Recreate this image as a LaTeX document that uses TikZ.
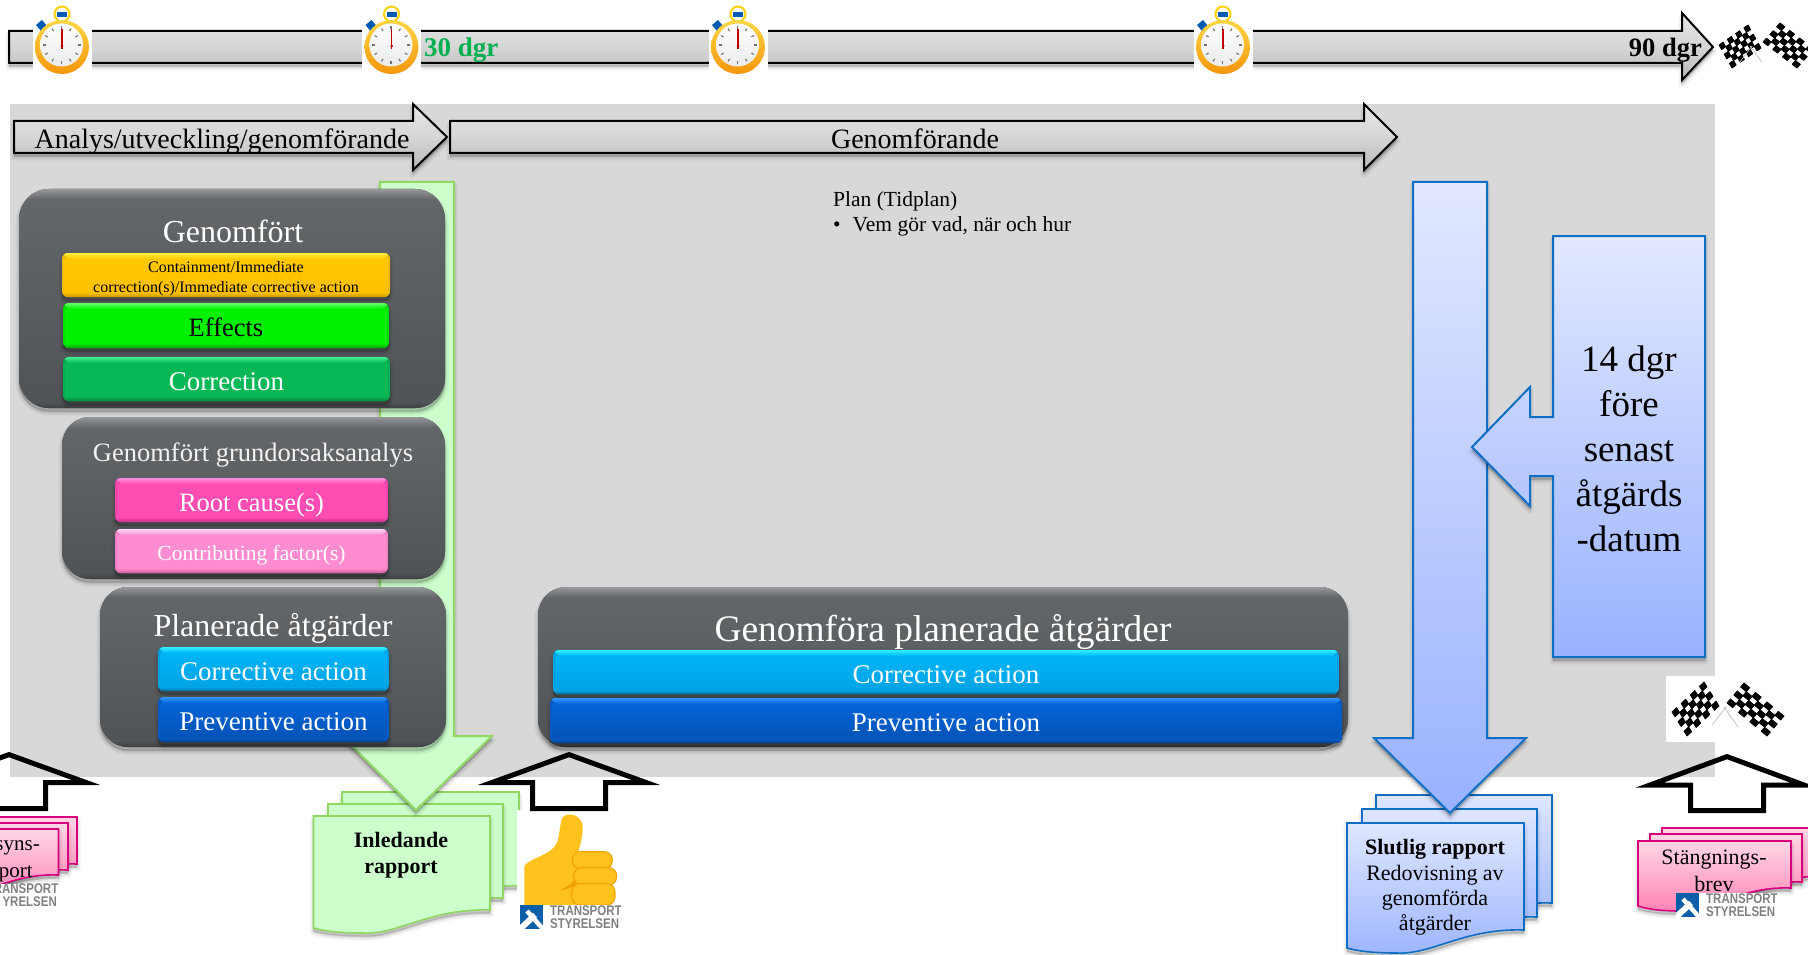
\documentclass[tikz,border=0pt]{standalone}
\usepackage{fontspec}
\setmainfont{Liberation Serif}
\newfontfamily\logofont{Liberation Sans}
\usetikzlibrary{calc}
\newcommand{\myfs}[1]{\fontsize{#1}{#1}\selectfont}
\definecolor{panelgrey}{HTML}{D8D8D8}
\definecolor{bluedge}{HTML}{0F6FC6}
\definecolor{grnedge}{HTML}{90D860}
\definecolor{grnfill}{HTML}{CCFFCC}
\definecolor{pinkedge}{HTML}{D9007E}
\definecolor{darkA}{HTML}{65686B}\definecolor{darkB}{HTML}{505355}\definecolor{darkH}{HTML}{96989A}\definecolor{darkL}{HTML}{3E4042}
\definecolor{thumbY}{HTML}{FFC21C}\definecolor{thumbO}{HTML}{F0A000}
\definecolor{yelT}{HTML}{FFC800}\definecolor{yelB}{HTML}{FFC000}\definecolor{yelH}{HTML}{FFF040}\definecolor{yelL}{HTML}{C89600}
\definecolor{limT}{HTML}{00F000}\definecolor{limB}{HTML}{00F000}\definecolor{limH}{HTML}{66FF66}\definecolor{limL}{HTML}{00A800}
\definecolor{grnT}{HTML}{08B856}\definecolor{grnB}{HTML}{08B856}\definecolor{grnH}{HTML}{40F090}\definecolor{grnL}{HTML}{068C40}
\definecolor{magT}{HTML}{FF4DB4}\definecolor{magB}{HTML}{FF4DB4}\definecolor{magH}{HTML}{FF90E0}\definecolor{magL}{HTML}{C83088}
\definecolor{rosT}{HTML}{FF8CD0}\definecolor{rosB}{HTML}{FF8CD0}\definecolor{rosH}{HTML}{FFD8F8}\definecolor{rosL}{HTML}{D060A0}
\definecolor{cyaT}{HTML}{00B4F8}\definecolor{cyaB}{HTML}{00A4E4}\definecolor{cyaH}{HTML}{30F0FF}\definecolor{cyaL}{HTML}{0070A0}
\definecolor{bluT}{HTML}{0564D8}\definecolor{bluB}{HTML}{0454B8}\definecolor{bluH}{HTML}{3498FF}\definecolor{bluL}{HTML}{033E8C}
\tikzset{
  softsh/.style={
    preaction={fill=black,draw=black,fill opacity=.05,draw opacity=.05,line width=7,line join=round,transform canvas={yshift=-4pt}},
    preaction={fill=black,draw=black,fill opacity=.07,draw opacity=.07,line width=3,line join=round,transform canvas={yshift=-4pt}},
    preaction={fill=black,draw=black,fill opacity=.08,draw opacity=.08,line width=.5,line join=round,transform canvas={yshift=-3pt}}},
  greyarrow/.style={softsh,draw=black,line width=2,top color=black!10,bottom color=black!28,middle color=black!16,miter limit=10},
  outlinearrow/.style={draw=black,line width=5,miter limit=14},
  sheetgreen/.style={softsh,draw=grnedge,line width=1.6,fill=grnfill},
  sheetblue/.style={softsh,draw=bluedge,line width=1.6,top color={rgb,255:red,222;green,230;blue,255},bottom color={rgb,255:red,158;green,182;blue,255}},
  sheetpink/.style={softsh,draw=pinkedge,line width=1.6,top color={rgb,255:red,255;green,214;blue,230},bottom color={rgb,255:red,255;green,130;blue,180}},
  txt/.style={inner sep=0pt,align=center,text=black},
  logotxt/.style={inner sep=0pt,text=black!50,font=\logofont\bfseries\myfs{14}},
}
% flag: corner, long vector, short vector
\newcommand{\checkflag}[6]{%
  \foreach \i in {0,...,6}{\foreach \j in {0,...,4}{%
    \pgfmathtruncatemacro{\flagk}{mod(\i+\j,2)}%
    \ifnum\flagk=0
    \filldraw[black,line width=.8,line join=round] (#1+\i*#3/7+\j*#5/5,#2+\i*#4/7+\j*#6/5) -- ++(#3/7,#4/7) -- ++(#5/5,#6/5) -- ++(-#3/7,-#4/7) -- cycle;
    \fi}}}
% bar with bevel: name x1 y1 x2 y2 colour size textcolour text
\newcommand{\bevelbar}[9]{%
  \fill[softsh,#6L,rounded corners=6] (#2,#3) rectangle (#4,#5);
  \begin{scope}
    \clip[rounded corners=6] (#2,#3) rectangle (#4,#5);
    \fill[#6L!25!#6T] (#2,#3) rectangle (#4,#5);
    \shade[top color=#6H,bottom color=#6T] (#2,#3) -- (#4,#3) -- ($(#4,#3)+(-6,6)$) -- ($(#2,#3)+(6,6)$) -- cycle;
    \shade[top color=#6T,bottom color=#6L] ($(#2,#5)+(5,-5)$) -- ($(#4,#5)+(-5,-5)$) -- (#4,#5) -- (#2,#5) -- cycle;
    \shade[top color=#6T,bottom color=#6B] ($(#2,#3)+(2.5,6)$) rectangle ($(#4,#5)+(-2.5,-5)$);
  \end{scope}
  \pgfmathsetmacro{\bth}{.68*#7}%
  \node[txt,font=\myfs{#7},text=#8,text height=\bth pt,text depth=0pt] (#1) at ($(#2,#3)!.5!(#4,#5)+(0,2.2)$) {#9};}
% dark rounded panel: x1 y1 x2 y2 radius
\newcommand{\darkpanel}[5]{%
  \fill[softsh,darkA,rounded corners=#5] (#1,#2) rectangle (#3,#4);
  \begin{scope}
    \clip[rounded corners=#5] (#1,#2) rectangle (#3,#4);
    \shade[top color=darkA,bottom color=darkB] (#1,#2) rectangle (#3,#4);
    \shade[top color=darkH,bottom color=darkA] (#1,#2) rectangle ($(#3,#2)+(0,10)$);
    \shade[top color=darkB,bottom color=darkL] ($(#1,#4)+(0,-6)$) rectangle (#3,#4);
  \end{scope}}
% stopwatch
\newcommand{\stopw}[3]{%
  \begin{scope}[shift={(#2,#3)}]
    \fill[white] (-29.5,-47) rectangle (29.5,28);
    \coordinate (#1) at (0,0);
    \draw[yellow!70!orange,line width=2] (0,-33) circle (7.5);
    \fill[blue!50!cyan!70!black] (-5,-35) rectangle (5,-30);
    \fill[blue!50!cyan!70!black] (-26,-22) -- (-20,-27) -- (-15,-21) -- (-21,-16) -- cycle;
    \shade[top color={rgb,255:red,255;green,214;blue,70},bottom color={rgb,255:red,245;green,150;blue,10}] (0,0) circle (27);
    \shade[top color=white,bottom color=black!8] (-.5,-2) circle (21.5);
    \foreach \a in {0,30,...,330}{\draw[black!55,line width=1.1] ($(-.5,-2)+(\a:16)$) -- ($(-.5,-2)+(\a:19)$);}
    \draw[red!75!black,line width=1.2] (0,2) -- (0,-18);
    \fill[red!75!black] (0,-1) circle (1.5);
  \end{scope}}
% sheet with wavy bottom: x1 y1 x2 yr style
\newcommand{\sheet}[5]{%
  \pgfmathsetmacro{\shw}{#3-#1}%
  \draw[#5] (#1,#2) -- (#3,#2) -- (#3,#4)
    .. controls ($(#3,#4)+(-.34*\shw,-2)$) and ($(#3,#4)+(-.52*\shw,25)$) .. ($(#3,#4)+(-.72*\shw,23)$)
    .. controls ($(#3,#4)+(-.82*\shw,23)$) and ($(#3,#4)+(-.92*\shw,22)$) .. ($(#1,#4)+(0,18)$) -- cycle;}
% logo: name x y
\newcommand{\tslogo}[3]{%
  \fill[white] (#2,#3) rectangle ($(#2,#3)+(104,25)$);
  \begin{scope}
    \clip (#2,#3) rectangle ($(#2,#3)+(23,24)$);
    \fill[bluedge!85!black] (#2,#3) rectangle ($(#2,#3)+(23,24)$);
    \draw[white,line width=4.5] ($(#2,#3)+(7,6)$) -- ($(#2,#3)+(23,24)$);
    \draw[white,line width=6] ($(#2,#3)+(-1,25)$) -- ($(#2,#3)+(15,10)$);
  \end{scope}
  \node[logotxt,anchor=west] (#1a) at ($(#2,#3)+(30,6)$) {\scalebox{.82}[1]{TRANSPORT}};
  \node[logotxt,anchor=west] (#1b) at ($(#2,#3)+(30,19)$) {\scalebox{.82}[1]{STYRELSEN}};}
\begin{document}
\begin{tikzpicture}[x=1pt,y=-1pt,line join=miter]
\useasboundingbox (0,0) rectangle (1808,955);
\fill[white] (0,0) rectangle (1808,955);
% timeline
\path[greyarrow] (9,31) -- (1682,31) -- (1682,13) -- (1713,47) -- (1682,80) -- (1682,63) -- (9,63) -- cycle;
\stopw{wa}{62}{47}\stopw{wb}{391.5}{47}\stopw{wc}{738}{47}\stopw{wd}{1223}{47}
\node[txt,anchor=west,font=\bfseries\myfs{27},text={rgb,255:red,0;green,176;blue,80}] (d30) at (424,50.5) {30 dgr};
\node[txt,anchor=east,font=\bfseries\myfs{26.5}] (d90) at (1702,50) {90 dgr};
\checkflag{1719}{45}{29}{-20}{13}{23}
\checkflag{1763}{42}{34}{26}{17}{-19}
\draw[black!25,line width=.7] (1752,46) -- (1740,62) (1750,46) -- (1762,62);
% panel
\fill[panelgrey] (10,104) rectangle (1715,777);
% phase arrows
\path[greyarrow] (14,121) -- (413,121) -- (413,104) -- (447,137) -- (413,170) -- (413,153) -- (14,153) -- cycle;
\path[greyarrow] (450,121) -- (1364,121) -- (1364,104) -- (1397,137) -- (1364,170) -- (1364,153) -- (450,153) -- cycle;
\node[txt,font=\myfs{28}] (t1) at (222,142) {Analys/utveckling/genomförande};
\node[txt,font=\myfs{28}] (t2) at (915,139) {Genomförande};
% documents green
\sheet{342}{792}{519}{886}{sheetgreen}
\sheet{328}{804}{503}{898}{sheetgreen}
\sheet{313.5}{816}{490}{910}{sheetgreen}
\node[txt,font=\bfseries\myfs{22},align=center] (inl) at (401,855) {Inledande\\[4.5pt]rapport};
% green arrow
\path[softsh,draw=grnedge,line width=2,fill=grnfill,miter limit=10] (380,182) -- (454,182) -- (454,736) -- (492,736) -- (416,810) -- (342,736) -- (380,736) -- cycle;
% white behind thumb
\fill[white] (517,810) rectangle (625,932);
\begin{scope}[shift={(515,805)},scale=1/3]
  \fill[thumbY] (28,300) -- (28,185) .. controls (30,165) and (110,150) .. (125,115) .. controls (135,90) and (135,50) .. (142,38) .. controls (155,22) and (195,25) .. (203,60) .. controls (205,90) and (195,120) .. (190,142) -- (180,300) -- cycle;
  \draw[fill=thumbY,draw=thumbO,line width=1,rounded corners=8] (172,140) rectangle (292,192);
  \draw[fill=thumbY,draw=thumbO,line width=1,rounded corners=8] (176,188) rectangle (305,240);
  \draw[fill=thumbY,draw=thumbO,line width=1,rounded corners=8] (170,236) rectangle (300,300);
  \fill[thumbO] (130,257) .. controls (150,250) and (165,240) .. (180,225) -- (185,240) .. controls (165,250) and (150,255) .. (130,257) -- cycle;
\end{scope}
\tslogo{lg}{520}{905}
% dark panels
\darkpanel{19}{189}{445}{408}{30}
\node[txt,font=\myfs{32},text=white] (g1) at (233,231) {Genomfört};
\bevelbar{yb}{62}{253}{390}{297}{yel}{16}{black}{}
\node[txt,font=\myfs{16}] (yt) at (226,279) {Containment/Immediate\\[4pt]correction(s)/Immediate corrective action};
\bevelbar{ef}{63}{303}{389}{348}{lim}{26.5}{black}{Effects}
\bevelbar{co}{63}{357}{390}{401}{grn}{27}{white}{Correction}
\darkpanel{62}{417}{445}{579}{28}
\node[txt,font=\myfs{26.5},text=white!95!black] (g2) at (253,455) {Genomfört grundorsaksanalys};
\bevelbar{rc}{115}{478}{388}{522}{mag}{26.5}{white}{Root cause(s)}
\bevelbar{cf}{115}{529}{388}{573}{ros}{21.5}{white}{Contributing factor(s)}
\darkpanel{100}{587}{446}{747}{28}
\node[txt,font=\myfs{32},text=white] (g3) at (273,628.5) {Planerade åtgärder};
\bevelbar{ca}{158}{647}{389}{691}{cya}{27}{white}{Corrective action}
\bevelbar{pa}{158}{697}{389}{742}{blu}{27}{white}{Preventive action}
\darkpanel{538}{587}{1348}{747}{28}
\node[txt,font=\myfs{37.4},text=white] (g4) at (943,631.5) {Genomföra planerade åtgärder};
\bevelbar{cb}{553}{650}{1339}{694}{cya}{27}{white}{Corrective action}
\bevelbar{pb}{550}{698}{1342}{743}{blu}{27}{white}{Preventive action}
% plan
\node[txt,anchor=west,font=\myfs{21.5}] (pl) at (833,201) {Plan (Tidplan)};
\node[txt,anchor=west,font=\myfs{21.5}] (pl2) at (833,226) {•\hspace{12pt}Vem gör vad, när och hur};
% blue docs
\sheet{1376}{795}{1552}{903}{sheetblue}
\sheet{1362}{809}{1537}{917}{sheetblue}
\sheet{1347}{823}{1524}{930}{sheetblue}
\node[txt,font=\myfs{22},align=center] (sl) at (1435,887.5) {\textbf{Slutlig rapport}\\[3.4pt]Redovisning av\\[3.4pt]genomförda\\[3.4pt]åtgärder};
% blue arrow
\path[softsh,draw=bluedge,line width=2,top color={rgb,255:red,226;green,232;blue,255},bottom color={rgb,255:red,153;green,178;blue,255},miter limit=10] (1413,182) -- (1487,182) -- (1487,738) -- (1526,738) -- (1450,813) -- (1374,738) -- (1413,738) -- cycle;
% 14 dgr callout
\path[softsh,draw=bluedge,line width=2,top color={rgb,255:red,226;green,232;blue,255},bottom color={rgb,255:red,153;green,178;blue,255},miter limit=10] (1553,236) -- (1705,236) -- (1705,657) -- (1553,657) -- (1553,476) -- (1530,476) -- (1530,506) -- (1472,447) -- (1530,387) -- (1530,417) -- (1553,417) -- cycle;
\node[txt,font=\myfs{37},align=center] (dd) at (1629,448.5) {14 dgr\\[8pt]före\\[8pt]senast\\[8pt]åtgärds\\[8pt]-datum};
% end flags
\fill[white] (1666,676) rectangle (1787,742);
\checkflag{1672}{712}{32}{-30}{15}{24}
\checkflag{1727}{703}{40}{33}{17}{-20}
\draw[black!25,line width=.7] (1726,707) -- (1712,725) (1724,707) -- (1738,727);
% pink docs
\sheet{-70}{817}{77}{864}{sheetpink}
\sheet{-82}{823}{68}{870}{sheetpink}
\sheet{-94}{829}{58.5}{875}{sheetpink}
\node[txt,anchor=east,font=\myfs{21}] (s1) at (40,848) {syns-};
\node[txt,anchor=east,font=\myfs{21}] (s2) at (33,874) {port};
\fill[white] (0,884) rectangle (60,910);
\node[logotxt,anchor=east] (la) at (58.5,889) {\scalebox{.82}[1]{RANSPORT}};
\node[logotxt,anchor=east] (lb) at (57,902) {\scalebox{.82}[1]{YRELSEN}};
\sheet{1662}{828}{1830}{876}{sheetpink}
\sheet{1650}{834}{1802}{882}{sheetpink}
\sheet{1638}{841}{1791}{888}{sheetpink}
\node[txt,font=\myfs{22},align=center] (st) at (1714,871) {Stängnings-\\[5pt]brev};
\tslogo{lr}{1676}{893}
% up arrows
\draw[outlinearrow] (-30,808.5) -- (45.5,808.5) -- (45.5,782.5) -- (86,782.5) -- (9,754.6) -- (-68,782.5) -- cycle;
\draw[outlinearrow] (532.5,808.5) -- (605.5,808.5) -- (605.5,782.5) -- (646,782.5) -- (569,754.6) -- (492,782.5) -- (532.5,782.5) -- cycle;
\draw[outlinearrow] (1690.5,810.5) -- (1763.5,810.5) -- (1763.5,785) -- (1804,785) -- (1727,756.6) -- (1650,785) -- (1690.5,785) -- cycle;
\end{tikzpicture}
\end{document}
